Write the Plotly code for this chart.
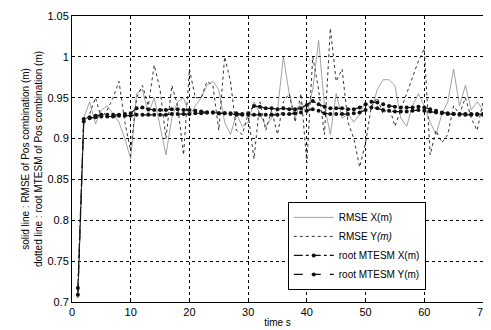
import plotly.graph_objects as go

t = list(range(1, 71))

rmse_x = [0.712, 0.925, 0.945, 0.918, 0.935, 0.94, 0.93, 0.92, 0.9, 0.875,
          0.955, 0.96, 0.93, 0.95, 0.915, 0.88, 0.925, 0.945, 0.95, 0.928,
          0.94, 0.95, 0.965, 0.97, 0.96, 0.92, 0.905, 0.93, 0.915, 0.92,
          0.945, 0.93, 0.915, 0.925, 0.935, 1.0, 0.955, 0.925, 0.945, 0.93,
          0.96, 1.02, 0.94, 0.905, 0.955, 0.925, 0.93, 0.92, 0.93, 0.945,
          0.935, 0.96, 0.972, 0.972, 0.965, 0.925, 0.915, 0.94, 0.955, 0.94,
          0.92, 0.905, 0.93, 0.945, 0.985, 0.94, 0.965, 0.935, 0.945, 0.935]

rmse_y = [0.705, 0.92, 0.93, 0.95, 0.925, 0.935, 0.95, 0.97, 0.92, 0.885,
          0.95, 0.965, 0.94, 0.99, 0.96, 0.9, 0.965, 0.94, 0.88, 0.985,
          0.95, 0.95, 0.97, 0.965, 0.91, 1.0, 0.97, 0.91, 0.905, 0.93,
          0.875, 0.945, 0.91, 0.935, 0.905, 0.945, 0.955, 0.92, 0.955, 0.87,
          1.0, 0.96, 0.905, 1.035, 0.97, 0.985, 0.92, 0.9, 0.865, 0.895,
          0.94, 0.95, 0.93, 0.94, 0.915, 0.935, 0.955, 0.975, 0.995, 1.01,
          0.88, 0.91, 0.895, 0.905, 0.94, 0.93, 0.95, 0.925, 0.91, 0.945]

mtesm_x = [0.717, 0.924, 0.926, 0.928, 0.929, 0.929, 0.929, 0.929, 0.93, 0.931,
           0.937, 0.938, 0.936, 0.935, 0.935, 0.935, 0.936, 0.936, 0.935, 0.935,
           0.934, 0.933, 0.932, 0.932, 0.931, 0.931, 0.931, 0.931, 0.93, 0.931,
           0.94, 0.939, 0.937, 0.937, 0.936, 0.937, 0.936, 0.936, 0.937, 0.941,
           0.946, 0.942, 0.939, 0.937, 0.937, 0.937, 0.936, 0.936, 0.938, 0.942,
           0.945, 0.944, 0.942, 0.94, 0.939, 0.938, 0.938, 0.938, 0.939, 0.938,
           0.936, 0.934, 0.932, 0.931, 0.93, 0.93, 0.93, 0.93, 0.93, 0.93]

mtesm_y = [0.709, 0.921, 0.925, 0.926, 0.927, 0.927, 0.927, 0.928, 0.928, 0.928,
           0.929, 0.929, 0.929, 0.929, 0.929, 0.929, 0.93, 0.93, 0.93, 0.93,
           0.931, 0.931, 0.932, 0.932, 0.931, 0.931, 0.93, 0.929, 0.929, 0.929,
           0.929, 0.929, 0.929, 0.929, 0.929, 0.93, 0.93, 0.931, 0.932, 0.934,
           0.936, 0.934, 0.931, 0.93, 0.93, 0.93, 0.93, 0.931, 0.932, 0.935,
           0.938, 0.937, 0.935, 0.934, 0.933, 0.933, 0.933, 0.934, 0.935, 0.934,
           0.933, 0.932, 0.931, 0.93, 0.93, 0.929, 0.929, 0.929, 0.929, 0.929]

y_ticks = [0.7, 0.75, 0.8, 0.85, 0.9, 0.95, 1.0, 1.05]
y_tick_labels = ["0.7", "0.75", "0.8", "0.85", "0.9", "0.95", "1", "1.05"]
x_ticks = [0, 10, 20, 30, 40, 50, 60, 70]

FONT = "Liberation Sans, Arial, sans-serif"

fig = go.Figure()
fig.add_trace(go.Scatter(x=t, y=rmse_x, mode="lines", name="RMSE X(m)",
                         line=dict(color="#8a8a8a", width=0.8, dash="solid")))
fig.add_trace(go.Scatter(x=t, y=rmse_y, mode="lines", name="RMSE Y<i>(m)</i>",
                         line=dict(color="#333333", width=1, dash="dot")))
fig.add_trace(go.Scatter(x=t, y=mtesm_x, mode="lines+markers", name="root MTESM X(m)",
                         line=dict(color="#111111", width=1.2, dash="dashdot"),
                         marker=dict(size=4, color="#111111")))
fig.add_trace(go.Scatter(x=t, y=mtesm_y, mode="lines+markers", name="root MTESM Y(m)",
                         line=dict(color="#111111", width=1.2, dash="dash"),
                         marker=dict(size=4, color="#111111")))

# page body has an 8px margin; the figure is sized so the plot area lands where the reference's does
fig.update_layout(
    width=483, height=322,
    margin=dict(l=64, r=2, t=8, b=28),
    paper_bgcolor="white", plot_bgcolor="white",
    font=dict(family=FONT, size=11, color="black"),
    showlegend=True,
    legend=dict(x=0.525, y=0.35, xanchor="left", yanchor="top",
                bgcolor="white", bordercolor="black", borderwidth=1,
                font=dict(size=10), tracegroupgap=0, itemwidth=40),
    xaxis=dict(range=[0, 70], tickvals=x_ticks, showgrid=True,
               gridcolor="black", griddash="dot", gridwidth=1,
               showline=True, linecolor="black", linewidth=1, mirror=True,
               ticks="inside", ticklen=3, tickcolor="black", zeroline=False,
               ticklabeloverflow="allow",
               title=dict(text="time s", font=dict(size=10), standoff=1)),
    yaxis=dict(range=[0.7, 1.05], tickvals=y_ticks, ticktext=y_tick_labels,
               showgrid=True, gridcolor="black", griddash="dot", gridwidth=1,
               showline=True, linecolor="black", linewidth=1, mirror=True,
               ticks="inside", ticklen=3, tickcolor="black", zeroline=False,
               title=dict(text="solid line : RMSE of Pos combination (m)<br>dotted line : root MTESM of Pos combination (m)",
                          font=dict(size=10), standoff=2)),
)

fig.write_html("out.html")
